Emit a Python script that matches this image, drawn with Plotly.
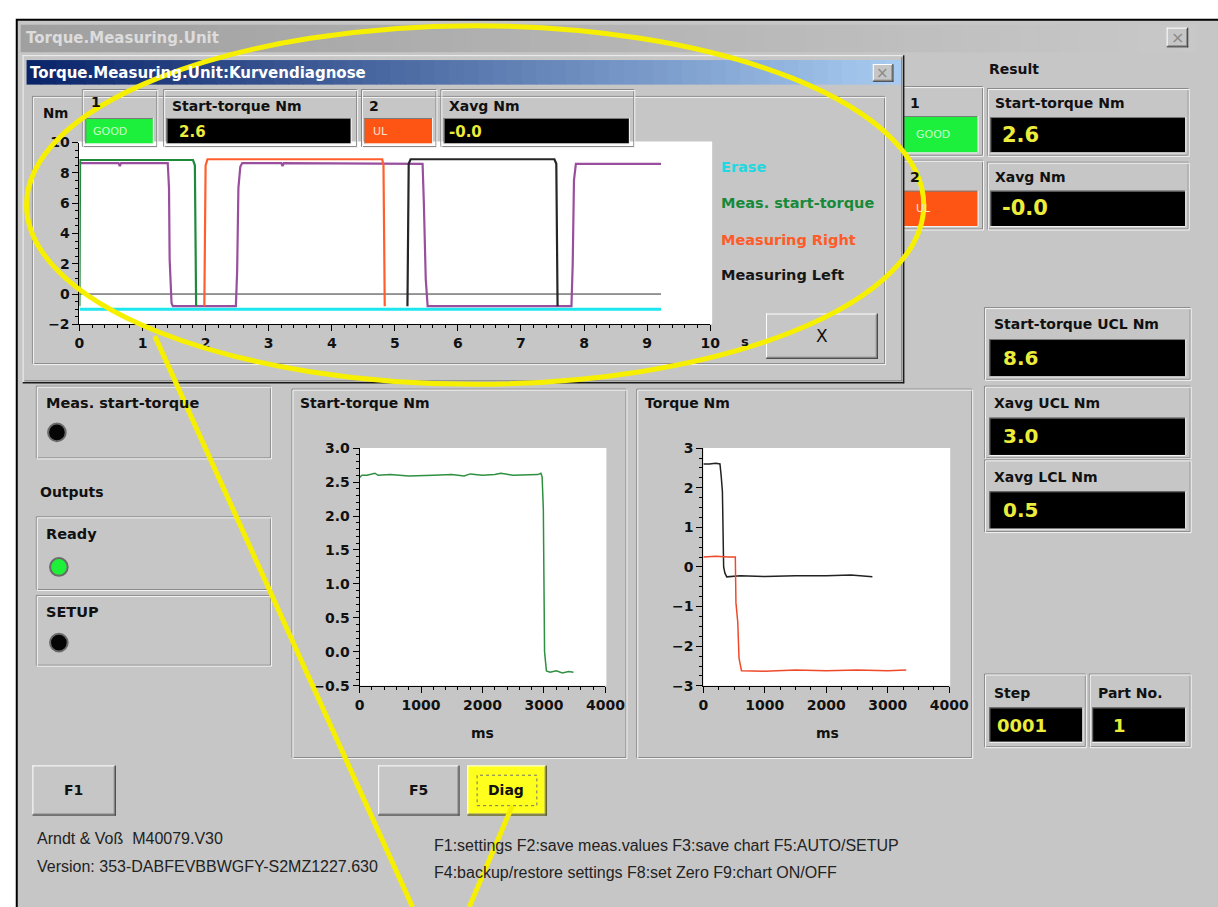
import plotly.graph_objects as go

W, H = 1218, 907

# ---------------- data ----------------
# Kurvendiagnose chart (time in s, torque in Nm)
diag_erase_s = [0.0, 9.22]
diag_erase_nm = [-1.0, -1.0]
diag_zero_s = [0.0, 9.22]
diag_zero_nm = [0.0, 0.0]
diag_travel_s = [0.0, 0.62, 0.64, 0.66, 1.40, 1.42, 1.43, 1.46, 1.48, 2.0, 2.48, 2.50, 2.52, 2.55,
                 2.58, 3.20, 3.22, 3.24, 5.44, 5.46, 5.49, 5.52, 7.80, 7.82, 7.84, 7.87, 9.22]
diag_travel_nm = [8.65, 8.65, 8.45, 8.65, 8.65, 7.0, 2.3, -0.6, -0.8, -0.8, -0.8, 1.5, 7.0, 8.4,
                  8.65, 8.65, 8.45, 8.65, 8.6, 6.0, 1.0, -0.8, -0.8, 2.0, 7.5, 8.6, 8.6]
diag_start_s = [0.0, 0.01, 0.6, 1.2, 1.80, 1.83, 1.85]
diag_start_nm = [-0.8, 8.85, 8.85, 8.85, 8.85, 8.5, -0.8]
diag_right_s = [1.98, 2.00, 2.03, 3.0, 4.0, 4.80, 4.82, 4.84]
diag_right_nm = [-0.8, 8.5, 8.9, 8.9, 8.9, 8.9, 8.5, -0.8]
diag_left_s = [5.20, 5.22, 5.25, 6.5, 7.53, 7.56, 7.58]
diag_left_nm = [-0.8, 8.6, 8.9, 8.9, 8.9, 8.6, -0.8]
diag_legend = ["Erase", "Meas. start-torque", "Measuring Right", "Measuring Left"]

# Start-torque chart (ms, Nm)
st_ms = [0, 40, 120, 250, 300, 500, 800, 1000, 1200, 1500, 1700, 1800, 2000, 2200, 2300, 2500,
         2700, 2900, 2950, 2970, 2990, 3010, 3040, 3100, 3200, 3300, 3400, 3480]
st_nm = [2.57, 2.6, 2.6, 2.63, 2.6, 2.61, 2.59, 2.6, 2.6, 2.61, 2.59, 2.62, 2.6, 2.61, 2.63, 2.6,
         2.6, 2.61, 2.63, 2.58, 2.1, 0.0, -0.28, -0.3, -0.28, -0.31, -0.29, -0.3]

# Torque chart (ms, Nm)
tl_ms = [0, 100, 200, 270, 290, 310, 330, 350, 380, 600, 1000, 1500, 2000, 2400, 2750]
tl_nm = [2.6, 2.6, 2.62, 2.6, 2.3, 1.9, 0.0, -0.15, -0.25, -0.22, -0.24, -0.22, -0.22, -0.2, -0.25]
tr_ms = [0, 200, 400, 520, 530, 560, 580, 620, 1000, 1500, 2000, 2500, 3000, 3300]
tr_nm = [0.25, 0.27, 0.25, 0.25, -0.9, -1.4, -2.3, -2.62, -2.63, -2.6, -2.62, -2.6, -2.62, -2.6]

# Displayed values
result_labels = ["Start-torque Nm", "Xavg Nm"]
result_values = ["2.6", "-0.0"]
limit_labels = ["Start-torque UCL Nm", "Xavg UCL Nm", "Xavg LCL Nm"]
limit_values = ["8.6", "3.0", "0.5"]
status_labels = ["GOOD", "UL"]

# ---------------- helpers ----------------
shapes, annos = [], []
GRAY = '#c6c6c6'
YEL = '#ecec3a'
FOOT = 'Liberation Sans'


def X(x):
    return x / W


def Y(y):
    return 1 - y / H


def rect(x0, y0, x1, y1, fill=None, line=None, lw=1, layer='below', dash=None):
    d = dict(type='rect', xref='paper', yref='paper', x0=X(x0), x1=X(x1), y0=Y(y1), y1=Y(y0),
             layer=layer, fillcolor=fill if fill else 'rgba(0,0,0,0)',
             line=dict(color=line if line else 'rgba(0,0,0,0)', width=lw if line else 0))
    if dash:
        d['line']['dash'] = dash
    shapes.append(d)


def seg(x0, y0, x1, y1, color, lw=1, layer='below'):
    shapes.append(dict(type='line', xref='paper', yref='paper', x0=X(x0), x1=X(x1), y0=Y(y0),
                       y1=Y(y1), line=dict(color=color, width=lw), layer=layer))


def etched(x0, y0, x1, y1):
    rect(x0, y0, x1, y1, line='#878787')
    rect(x0 + 1, y0 + 1, x1 + 1, y1 + 1, line='#f4f4f4')


def raised(x0, y0, x1, y1, fill=GRAY):
    rect(x0, y0, x1, y1, fill=fill)
    seg(x0, y0 + 0.5, x1, y0 + 0.5, '#ffffff')
    seg(x0 + 0.5, y0, x0 + 0.5, y1, '#ffffff')
    seg(x0, y1 - 0.5, x1, y1 - 0.5, '#1e1e1e')
    seg(x1 - 0.5, y0, x1 - 0.5, y1, '#1e1e1e')
    seg(x0 + 1, y1 - 1.5, x1 - 1, y1 - 1.5, '#808080')
    seg(x1 - 1.5, y0 + 1, x1 - 1.5, y1 - 1, '#808080')


def field(x0, y0, x1, y1, fill):
    rect(x0, y0, x1, y1, fill=fill)
    seg(x0, y0 + 0.5, x1, y0 + 0.5, '#7a7a7a')
    seg(x0 + 0.5, y0, x0 + 0.5, y1, '#7a7a7a')
    seg(x0, y1 + 0.5, x1, y1 + 0.5, '#f4f4f4')
    seg(x1 + 0.5, y0, x1 + 0.5, y1, '#f4f4f4')


def text(x, y, s, size=14, color='#111111', bold=True, family='DejaVu Sans', anchor='left'):
    annos.append(dict(x=X(x), y=Y(y), xref='paper', yref='paper', text=s, showarrow=False,
                      xanchor=anchor, yanchor='middle',
                      font=dict(family=family, size=size, color=color,
                                weight='bold' if bold else 'normal')))


def gradient(x0, y0, x1, y1, c0, c1, n=60):
    for i in range(n):
        t = i / (n - 1)
        col = 'rgb(%d,%d,%d)' % tuple(int(round(c0[k] + (c1[k] - c0[k]) * t)) for k in range(3))
        rect(x0 + (x1 - x0) * i / n, y0, x0 + (x1 - x0) * (i + 1) / n + 0.8, y1, fill=col)


def led(cx, cy, color):
    shapes.append(dict(type='circle', xref='paper', yref='paper', x0=X(cx - 9), x1=X(cx + 9),
                       y0=Y(cy + 9), y1=Y(cy - 9), fillcolor=color,
                       line=dict(color='#6a6a6a', width=2), layer='below'))


# ---------------- main window ----------------
rect(12, 12, 1240, 930, fill=GRAY, line='#000000', lw=2)
gradient(16, 17, 1216, 45, (160, 160, 160), (200, 200, 200))
text(19, 31, "Torque.Measuring.Unit", size=15, color='#dcdcdc')
raised(1186, 20, 1208, 40)
text(1197, 30, "×", size=16, color='#8a8a8a', bold=False, anchor='center')

# right result panel
text(1003, 62, "Result", size=14)
etched(905, 80, 998, 150)
text(922, 97, "1", size=14)
field(905, 110, 993, 147, '#1df03c')
text(928, 129, status_labels[0], size=11, color='#c8ffc8', bold=False)
etched(905, 155, 998, 225)
text(922, 172, "2", size=14)
field(905, 186, 993, 222, '#ff5514')
text(928, 204, status_labels[1], size=11, color='#ffe0d0', bold=False)

for (y0, lab, val) in [(82, result_labels[0], result_values[0]), (157, result_labels[1], result_values[1])]:
    etched(1003, y0, 1208, y0 + 68)
    text(1009, y0 + 15, lab, size=14)
    field(1006, y0 + 29, 1205, y0 + 65, '#000000')
    text(1016, y0 + 47, val, size=21, color=YEL)

for (y0, lab, val) in zip([305, 385, 460], limit_labels, limit_values):
    etched(1000, y0, 1210, y0 + 73)
    text(1008, y0 + 17, lab, size=14)
    field(1005, y0 + 32, 1205, y0 + 70, '#000000')
    text(1017, y0 + 51, val, size=20, color=YEL)

etched(1000, 678, 1103, 752)
text(1008, 697, "Step", size=14)
field(1005, 712, 1100, 747, '#000000')
text(1011, 730, "0001", size=18, color=YEL)
etched(1107, 678, 1210, 752)
text(1114, 697, "Part No.", size=14)
field(1110, 712, 1205, 747, '#000000')
text(1129, 730, "1", size=18, color=YEL)

# left status panels
etched(32, 385, 271, 458)
text(40, 402, "Meas. start-torque", size=14.5)
led(53, 432, '#050505')
text(34, 493, "Outputs", size=14)
etched(32, 518, 271, 592)
text(40, 535, "Ready", size=14.5)
led(55, 569, '#1ef03a')
etched(32, 598, 271, 669)
text(40, 615, "SETUP", size=14.5)
led(55, 646, '#050505')

# lower chart panels
etched(293, 388, 634, 763)
text(299, 402, "Start-torque Nm", size=14)
rect(362, 448, 614, 690, fill='#ffffff')
text(487, 738, "ms", size=14, anchor='center')
etched(645, 388, 987, 763)
text(651, 402, "Torque Nm", size=14)
rect(713, 448, 965, 690, fill='#ffffff')
text(840, 738, "ms", size=14, anchor='center')

# buttons and footer
raised(28, 771, 113, 822)
text(70, 796, "F1", size=14, anchor='center')
raised(381, 771, 464, 822)
text(422, 796, "F5", size=14, anchor='center')
raised(472, 771, 553, 822, fill='#ffff1e')
rect(482, 781, 543, 812, line='#707070', dash='dot')
text(512, 796, "Diag", size=14, anchor='center')
text(31, 845, "Arndt &amp; Voß  M40079.V30", size=16, bold=False, color='#222222', family=FOOT)
text(31, 874, "Version: 353-DABFEVBBWGFY-S2MZ1227.630", size=16, bold=False, color='#222222',
     family=FOOT)
text(436, 853, "F1:settings F2:save meas.values F3:save chart F5:AUTO/SETUP", size=16, bold=False,
     color='#222222', family=FOOT)
text(436, 880, "F4:backup/restore settings F8:set Zero F9:chart ON/OFF", size=16, bold=False,
     color='#222222', family=FOOT)

# ---------------- Kurvendiagnose dialog ----------------
rect(18, 48, 918, 382, fill=GRAY)
seg(18, 48.5, 918, 48.5, '#f0f0f0')
seg(18.5, 48, 18.5, 382, '#f0f0f0')
seg(18, 381.5, 918, 381.5, '#1a1a1a', lw=1.5)
seg(917.5, 48, 917.5, 382, '#1a1a1a', lw=1.5)
seg(20, 379.5, 916, 379.5, '#808080')
seg(915.5, 50, 915.5, 380, '#808080')
gradient(22, 53, 914, 78, (10, 36, 106), (166, 202, 240))
text(23, 66, "Torque.Measuring.Unit:Kurvendiagnose", size=15, color='#ffffff')
raised(886, 57, 907, 75)
text(896, 66, "×", size=15, color='#8a8a8a', bold=False, anchor='center')

etched(28, 90, 898, 362)
text(37, 107, "Nm", size=13.5)
rect(75, 136, 722, 322, fill='#ffffff')

etched(79, 83, 155, 141)
text(86, 96, "1", size=14)
field(82, 112, 151, 138, '#1df03c')
text(88, 126, status_labels[0], size=11, color='#c8ffc8', bold=False)
etched(162, 83, 359, 141)
text(168, 100, "Start-torque Nm", size=14)
field(165, 112, 353, 138, '#000000')
text(176, 126, result_values[0], size=15, color=YEL)
etched(364, 83, 440, 141)
text(370, 100, "2", size=14)
field(367, 112, 436, 138, '#ff5514')
text(374, 126, status_labels[1], size=11, color='#ffe0d0', bold=False)
etched(445, 83, 642, 141)
text(451, 100, "Xavg Nm", size=14)
field(448, 112, 637, 138, '#000000')
text(451, 126, result_values[1], size=15, color=YEL)

legend_cols = ['#22d8e0', '#168a3a', '#ff5a28', '#161616']
for i, (lab, col) in enumerate(zip(diag_legend, legend_cols)):
    text(729, [162, 199, 236, 272][i], lab, size=14.5, color=col)
text(749, 339, "s", size=13)
raised(777, 311, 891, 357)
text(834, 334, "X", size=17, bold=False, anchor='center')

# ---------------- yellow marking (above everything) ----------------
shapes.append(dict(type='circle', xref='paper', yref='paper', x0=X(22), x1=X(938), y0=Y(383),
                   y1=Y(18), line=dict(color='#f6f000', width=5), layer='above'))
seg(153, 334, 416, 915, '#f6f000', lw=5, layer='above')
seg(518, 812, 474, 915, '#f6f000', lw=5, layer='above')

# ---------------- traces ----------------
fig = go.Figure()
fig.add_trace(go.Scatter(x=diag_erase_s, y=diag_erase_nm, mode='lines',
                         line=dict(color='#1ee6ee', width=3), xaxis='x', yaxis='y'))
fig.add_trace(go.Scatter(x=diag_zero_s, y=diag_zero_nm, mode='lines',
                         line=dict(color='#303030', width=1), xaxis='x', yaxis='y'))
fig.add_trace(go.Scatter(x=diag_travel_s, y=diag_travel_nm, mode='lines',
                         line=dict(color='#9a4e9e', width=2.2), xaxis='x', yaxis='y'))
fig.add_trace(go.Scatter(x=diag_start_s, y=diag_start_nm, mode='lines',
                         line=dict(color='#1f8a3c', width=2.2), xaxis='x', yaxis='y'))
fig.add_trace(go.Scatter(x=diag_right_s, y=diag_right_nm, mode='lines',
                         line=dict(color='#ff5f2e', width=2.2), xaxis='x', yaxis='y'))
fig.add_trace(go.Scatter(x=diag_left_s, y=diag_left_nm, mode='lines',
                         line=dict(color='#262626', width=2.2), xaxis='x', yaxis='y'))
fig.add_trace(go.Scatter(x=st_ms, y=st_nm, mode='lines',
                         line=dict(color='#2e9040', width=1.5), xaxis='x2', yaxis='y2'))
fig.add_trace(go.Scatter(x=tl_ms, y=tl_nm, mode='lines',
                         line=dict(color='#222222', width=1.5), xaxis='x3', yaxis='y3'))
fig.add_trace(go.Scatter(x=tr_ms, y=tr_nm, mode='lines',
                         line=dict(color='#ee4a2a', width=1.5), xaxis='x3', yaxis='y3'))

tickfont = dict(family='DejaVu Sans', size=14, color='#111111', weight='bold')


def ax(domain, rng, dtick, minor, anchor, fmt=None):
    d = dict(domain=domain, range=rng, anchor=anchor, showline=True, linecolor='#000000',
             linewidth=1, ticks='outside', ticklen=6, tickwidth=1, tickcolor='#000000',
             tickmode='linear', tick0=0, dtick=dtick, showgrid=False, zeroline=False,
             tickfont=tickfont, fixedrange=True,
             minor=dict(ticks='outside', ticklen=3, tickcolor='#000000', dtick=minor, tick0=0,
                        showgrid=False))
    if fmt:
        d['tickformat'] = fmt
    return d


fig.update_layout(
    width=W, height=H, margin=dict(l=0, r=0, t=0, b=0, pad=0),
    paper_bgcolor='#ffffff', plot_bgcolor='rgba(0,0,0,0)', showlegend=False,
    xaxis=ax([X(76), X(720)], [0, 10], 1, 0.2, 'y'),
    yaxis=ax([Y(322), Y(137)], [-2, 10], 2, 0.5, 'x'),
    xaxis2=ax([X(362), X(613)], [0, 4000], 1000, 200, 'y2'),
    yaxis2=ax([Y(690), Y(448)], [-0.5, 3.0], 0.5, 0.1, 'x2', fmt='.1f'),
    xaxis3=ax([X(713), X(964)], [0, 4000], 1000, 250, 'y3'),
    yaxis3=ax([Y(690), Y(448)], [-3, 3], 1, 0.25, 'x3'),
    shapes=shapes, annotations=annos,
)

fig.write_html("out.html", config={'displayModeBar': False},
               post_script="document.body.style.margin='0';document.body.style.padding='0';"
                           "document.documentElement.style.overflow='hidden';")
